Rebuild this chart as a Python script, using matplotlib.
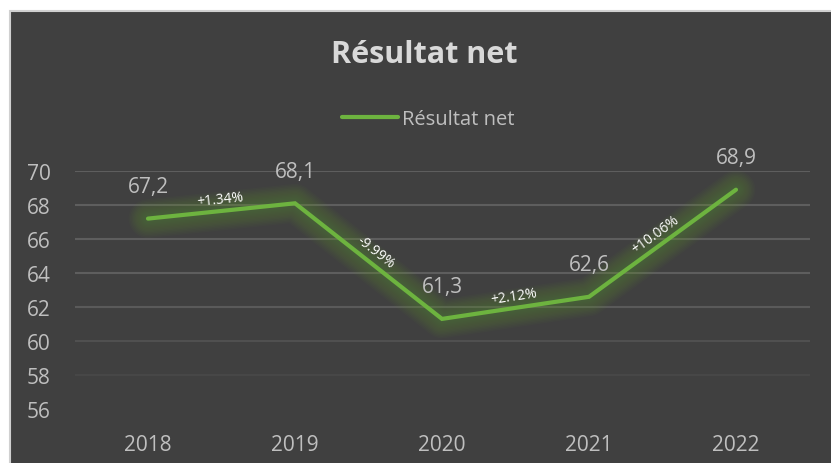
import numpy as np
import matplotlib.pyplot as plt
from matplotlib.patches import Rectangle

plt.rcParams['font.family'] = ['Open Sans', 'DejaVu Sans']

# Données
annees = ['2018', '2019', '2020', '2021', '2022']
resultat_net = [67.2, 68.1, 61.3, 62.6, 68.9]
etiquettes = ['67,2', '68,1', '61,3', '62,6', '68,9']
variations = ['+1.34%', '-9.99%', '+2.12%', '+10.06%']
graduations_y = [56, 58, 60, 62, 64, 66, 68, 70]

fond = '#404040'
vert = '#6db33f'
gris_texte = '#bfbfbf'

fig = plt.figure(figsize=(8.31, 4.64), dpi=100)
fig.patch.set_facecolor('white')

# Zone du graphique (cadre gris foncé), débordant à droite et en bas
W, H = 831, 464
fig.patches.append(Rectangle((10 / W, -0.05), 1.0, (H - 12) / H + 0.05, transform=fig.transFigure,
                             facecolor=fond, edgecolor='#d0d0d0', linewidth=1.5, zorder=-5))

ax = fig.add_axes([74.5 / W, 54 / H, 735 / W, 238 / H])
ax.set_facecolor('none')
x = np.arange(len(annees))
ax.set_xlim(-0.5, len(annees) - 0.5)
ax.set_ylim(56, 70)

# Quadrillage qui s'estompe vers le bas
alphas = [0.0, 0.25, 0.55, 0.9, 1, 1, 1, 1]
for g, a in zip(graduations_y, alphas):
    ax.axhline(g, color='#5e5e5e', linewidth=1.5, alpha=a, zorder=1)

# Halo autour de la courbe
for lw in range(28, 5, -2):
    ax.plot(x, resultat_net, color='#5f9a38', linewidth=lw, alpha=0.04,
            solid_capstyle='round', solid_joinstyle='round', zorder=2)
ax.plot(x, resultat_net, color=vert, linewidth=3.0, solid_capstyle='round',
        solid_joinstyle='miter', zorder=3, label='Résultat net')

# Étiquettes de valeurs
for xi, yi, t in zip(x, resultat_net, etiquettes):
    ax.annotate(t, (xi, yi), xytext=(0, 23), textcoords='offset points',
                ha='center', va='center', color=gris_texte, fontsize=15, zorder=4)

# Variations le long des segments
for i, t in enumerate(variations):
    p0 = ax.transData.transform((x[i], resultat_net[i]))
    p1 = ax.transData.transform((x[i + 1], resultat_net[i + 1]))
    dx, dy = p1 - p0
    ang = np.degrees(np.arctan2(dy, dx))
    n = np.array([-dy, dx]) / np.hypot(dx, dy)
    off = n * 8.5
    xm = (x[i] + x[i + 1]) / 2
    ym = (resultat_net[i] + resultat_net[i + 1]) / 2
    ax.annotate(t, (xm, ym), xytext=(off[0], off[1]), textcoords='offset points',
                ha='center', va='center', rotation=ang, rotation_mode='anchor',
                color='white', fontsize=10, zorder=4)

ax.set_xticks(x)
ax.set_xticklabels(annees)
ax.set_yticks(graduations_y)
ax.tick_params(axis='both', length=0, colors=gris_texte, labelsize=15)
ax.tick_params(axis='y', pad=17)
ax.tick_params(axis='x', pad=18)
for s in ax.spines.values():
    s.set_visible(False)

fig.text(424.5 / W, 1 - 55 / H, 'Résultat net', ha='center', va='center',
         fontsize=22, fontweight='bold', color='#d9d9d9')

leg = ax.legend(loc='center', bbox_to_anchor=(428 / W, 1 - 120 / H),
                bbox_transform=fig.transFigure, frameon=False, fontsize=14.5,
                handlelength=2.8, handletextpad=0.2, labelcolor=gris_texte)

fig.savefig('out.png', dpi=100, facecolor=fig.get_facecolor())
